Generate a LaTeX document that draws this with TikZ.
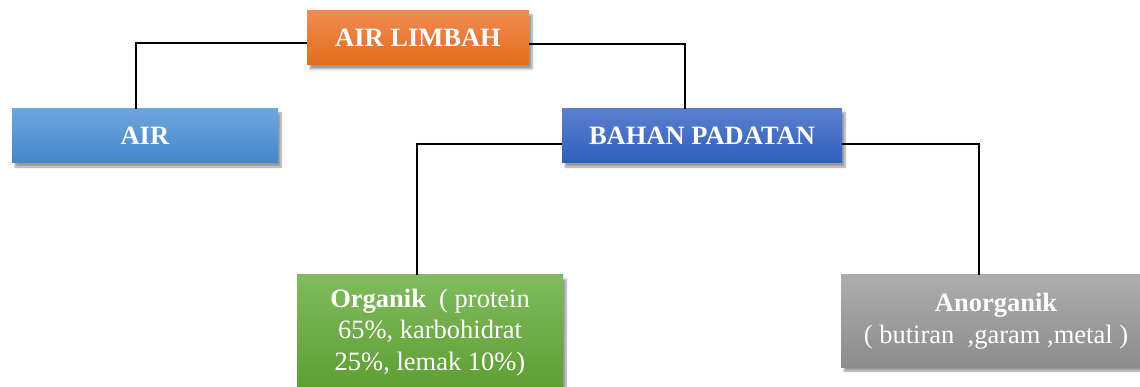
\documentclass[tikz,border=0pt]{standalone}
\usepackage{fontspec}
\setmainfont{Liberation Serif}
\usetikzlibrary{shadows.blur}
\definecolor{limbahtop}{HTML}{F08B50}
\definecolor{limbahbot}{HTML}{E36C1C}
\definecolor{airtop}{HTML}{6DA6DE}
\definecolor{airbot}{HTML}{4486C8}
\definecolor{bahantop}{HTML}{5B7FD0}
\definecolor{bahanbot}{HTML}{2F5FBB}
\definecolor{orgtop}{HTML}{80BB5D}
\definecolor{orgbot}{HTML}{5E9E33}
\definecolor{anorgtop}{HTML}{ADADAD}
\definecolor{anorgbot}{HTML}{8C8C8C}
\tikzset{
  box/.style={rectangle, inner sep=0pt, text=white, align=center,
    font=\fontsize{26.5}{31.5}\selectfont,
    blur shadow={shadow xshift=3pt, shadow yshift=-4pt, shadow blur steps=6}},
  link/.style={draw=black, line width=1.3pt}
}
\begin{document}
\begin{tikzpicture}[x=1pt, y=-1pt]
  \path[use as bounding box, clip] (0,0) rectangle (1140,387);

  % boxes
  \node[box, top color=limbahtop, bottom color=limbahbot,
        minimum width=222pt, minimum height=54pt] (limbah) at (418,38) {\textbf{AIR LIMBAH}};
  \node[box, top color=airtop, bottom color=airbot,
        minimum width=266pt, minimum height=54pt] (air) at (145,136) {\textbf{AIR}};
  \node[box, top color=bahantop, bottom color=bahanbot,
        minimum width=280pt, minimum height=54pt] (bahan) at (702,136) {\textbf{BAHAN PADATAN}};
  \node[box, top color=orgtop, bottom color=orgbot,
        minimum width=266pt, minimum height=115pt] (organik) at (430,332.5)
        {\textbf{Organik}~~( protein\\65\%, karbohidrat\\25\%, lemak 10\%)};
  \node[box, top color=anorgtop, bottom color=anorgbot,
        minimum width=310pt, minimum height=92pt] (anorganik) at (996,321)
        {\textbf{Anorganik}\\( butiran~~,garam ,metal )};

  % connectors
  \draw[link] ([yshift=-5pt]limbah.west) -| ([xshift=-9pt]air.north);
  \draw[link] ([yshift=-6pt]limbah.east) -| ([xshift=-17pt]bahan.north);
  \draw[link] ([yshift=-8pt]bahan.west) -| ([xshift=-13pt]organik.north);
  \draw[link] ([yshift=-8pt]bahan.east) -| ([xshift=-17pt]anorganik.north);
\end{tikzpicture}
\end{document}
